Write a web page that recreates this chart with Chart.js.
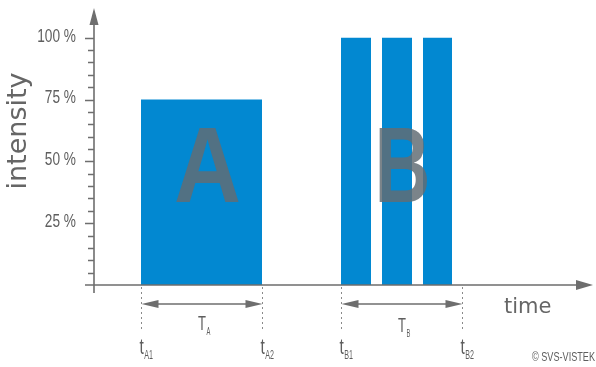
<!DOCTYPE html>
<html>
<head>
<meta charset="utf-8">
<script src="https://cdn.jsdelivr.net/npm/chart.js@4/dist/chart.umd.min.js"></script>
<style>
  html, body { margin: 0; padding: 0; background: #fff; }
  #wrap { width: 596px; height: 367px; }
</style>
</head>
<body>
<div id="wrap"><canvas id="chart" width="596" height="367"></canvas></div>
<script>
// pulses (time in arbitrary units, intensity in %)
const pulseStart = [9.4, 49.4, 57.6, 65.8];
const pulseEnd = [33.6, 55.4, 63.6, 71.6];
const pulseLevel = [75, 100, 100, 100];

// exposure windows
const spanNames = ['A', 'B'];
const spanStart = [9.4, 49.4];
const spanEnd = [33.6, 73.6];
const markerLabels = [['A1', 'A2'], ['B1', 'B2']];

const yTickValues = [25, 50, 75, 100];
const yTickLabels = ['25 %', '50 %', '75 %', '100 %'];
const yMinorStep = 5;

const blue = '#0288d1';
const axisGray = '#6e6e6e';
const textGray = '#5e5e5e';
const sans = '"Liberation Sans", sans-serif';

function arrowHead(ctx, x, y, dir, len, half) {
	ctx.beginPath();
	if (dir === 'up') {
		ctx.moveTo(x, y); ctx.lineTo(x - half, y + len); ctx.lineTo(x + half, y + len);
	} else if (dir === 'right') {
		ctx.moveTo(x, y); ctx.lineTo(x - len, y - half); ctx.lineTo(x - len, y + half);
	} else {
		ctx.moveTo(x, y); ctx.lineTo(x + len, y - half); ctx.lineTo(x + len, y + half);
	}
	ctx.closePath();
	ctx.fill();
}

// condensed text: squeeze horizontally, returns drawn width
function narrowText(ctx, text, x, y, size, squeeze, align) {
	ctx.font = `${size}px ${sans}`;
	const w = ctx.measureText(text).width * squeeze;
	let left = x;
	if (align === 'right') left = x - w;
	else if (align === 'center') left = x - w / 2;
	ctx.save();
	ctx.textAlign = 'left';
	ctx.translate(left, y);
	ctx.scale(squeeze, 1);
	ctx.fillText(text, 0, 0);
	ctx.restore();
	return w;
}

function subText(ctx, main, sub, x, y, mainSize, subSize, dy, squeeze) {
	ctx.textBaseline = 'alphabetic';
	const w = narrowText(ctx, main, x, y, mainSize, squeeze, 'left');
	narrowText(ctx, sub, x + w + 0.5, y + dy, subSize, squeeze * 0.85, 'left');
}

const diagram = {
	id: 'diagram',
	afterDatasetsDraw(chart) {
		const ctx = chart.ctx;
		const xs = chart.scales.x;
		const ys = chart.scales.y;
		const area = chart.chartArea;
		const x0 = area.left;
		const y0 = ys.getPixelForValue(0);
		ctx.save();

		// big letters over the pulses
		ctx.fillStyle = 'rgba(98, 108, 116, 0.84)';
		ctx.textAlign = 'center';
		ctx.textBaseline = 'alphabetic';
		const letterW = [67, 56];
		const letterX = [
			(xs.getPixelForValue(spanStart[0]) + xs.getPixelForValue(spanEnd[0])) / 2 + 6,
			(xs.getPixelForValue(pulseStart[1]) + xs.getPixelForValue(pulseEnd[3])) / 2 + 6
		];
		spanNames.forEach((n, i) => {
			ctx.font = `bold 107px ${sans}`;
			const w = ctx.measureText(n).width;
			ctx.save();
			ctx.translate(letterX[i], 202);
			ctx.scale(letterW[i] / w, 1);
			ctx.fillText(n, 0, 0);
			ctx.restore();
		});

		// axes
		ctx.strokeStyle = axisGray;
		ctx.fillStyle = axisGray;
		ctx.lineWidth = 1.6;
		ctx.beginPath();
		ctx.moveTo(x0, y0 + 8);
		ctx.lineTo(x0, area.top + 14);
		ctx.moveTo(x0 - 9, y0);
		ctx.lineTo(area.right - 14, y0);
		ctx.stroke();
		arrowHead(ctx, x0, area.top, 'up', 17, 4.5);
		arrowHead(ctx, area.right - 1, y0, 'right', 17, 5);

		// y ticks
		ctx.lineWidth = 1.3;
		ctx.beginPath();
		for (let v = yMinorStep; v <= 100; v += yMinorStep) {
			const py = Math.round(ys.getPixelForValue(v)) + 0.5;
			const major = yTickValues.includes(v);
			ctx.moveTo(x0 - (major ? 9 : 6), py);
			ctx.lineTo(x0, py);
		}
		ctx.stroke();

		ctx.fillStyle = textGray;
		ctx.textBaseline = 'middle';
		yTickValues.forEach((v, i) => {
			narrowText(ctx, yTickLabels[i], 76, ys.getPixelForValue(v) - 1, 18, 0.76, 'right');
		});

		// axis titles
		ctx.fillStyle = '#666';
		ctx.font = '27px "DejaVu Sans", sans-serif';
		ctx.textAlign = 'center';
		ctx.textBaseline = 'alphabetic';
		ctx.save();
		ctx.translate(26, 131);
		ctx.rotate(-Math.PI / 2);
		ctx.fillText('intensity', 0, 0);
		ctx.restore();
		ctx.font = '21px "DejaVu Sans", sans-serif';
		ctx.textAlign = 'left';
		ctx.fillText('time', 504, 313);

		// windows: dashed markers, double arrows, labels
		spanNames.forEach((n, i) => {
			const a = Math.round(xs.getPixelForValue(spanStart[i])) + 0.5;
			const b = Math.round(xs.getPixelForValue(spanEnd[i])) + 0.5;
			ctx.strokeStyle = '#8a8a8a';
			ctx.lineWidth = 1;
			ctx.setLineDash([2, 3]);
			ctx.beginPath();
			ctx.moveTo(a, y0 + 2); ctx.lineTo(a, y0 + 47);
			ctx.moveTo(b, y0 + 2); ctx.lineTo(b, y0 + 47);
			ctx.stroke();
			ctx.setLineDash([]);

			const ay = 304;
			ctx.strokeStyle = axisGray;
			ctx.fillStyle = axisGray;
			ctx.lineWidth = 1.6;
			ctx.beginPath();
			ctx.moveTo(a + 10, ay); ctx.lineTo(b - 10, ay);
			ctx.stroke();
			arrowHead(ctx, a, ay, 'left', 17, 4);
			arrowHead(ctx, b, ay, 'right', 17, 4);

			ctx.fillStyle = textGray;
			const mid = (a + b) / 2;
			subText(ctx, 'T', n, mid - 4, 330 + (i === 1 ? 2 : 0), 21, 11, 5, 0.62);

			markerLabels[i].forEach((m, k) => {
				const px = k === 0 ? a : b;
				subText(ctx, 't', m, px - 2, 354, 22, 12, 5, 0.7);
			});
		});

		ctx.fillStyle = textGray;
		ctx.textBaseline = 'middle';
		narrowText(ctx, '\u00a9 SVS-VISTEK', 595, 358, 12, 0.76, 'right');

		ctx.restore();
	}
};

const datasets = pulseStart.map((s, i) => ({
	data: [
		{ x: s, y: 0 },
		{ x: s, y: pulseLevel[i] },
		{ x: pulseEnd[i], y: pulseLevel[i] },
		{ x: pulseEnd[i], y: 0 }
	],
	fill: 'origin',
	backgroundColor: blue,
	borderWidth: 0,
	pointRadius: 0,
	tension: 0
}));

new Chart(document.getElementById('chart'), {
	type: 'line',
	data: { datasets },
	options: {
		responsive: false,
		animation: false,
		devicePixelRatio: 1,
		layout: { padding: { left: 94, top: 8, right: 2, bottom: 82 } },
		plugins: { legend: { display: false }, tooltip: { enabled: false } },
		scales: {
			x: { type: 'linear', min: 0, max: 100, display: false },
			y: { min: 0, max: 112, display: false }
		}
	},
	plugins: [diagram]
});
</script>
</body>
</html>
